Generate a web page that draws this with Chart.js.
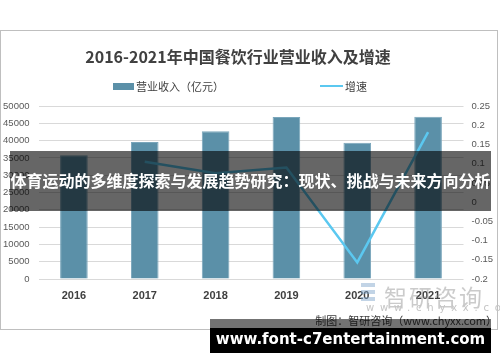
<!DOCTYPE html>
<html>
<head>
<meta charset="utf-8">
<script src="https://cdn.jsdelivr.net/npm/chart.js@4/dist/chart.umd.min.js"></script>
<style>
  html, body { margin: 0; padding: 0; background: #fff; }
  #wrap { position: relative; width: 500px; height: 362px; overflow: hidden; font-family: "Noto Sans CJK SC", "DejaVu Sans", sans-serif; }
  #card { position: absolute; left: 0; top: 30px; width: 496px; height: 298px; border: 1px solid #bfbfbf; }
  #chartBox { position: absolute; left: 0; top: 0; width: 500px; height: 362px; }
  .abs { position: absolute; white-space: nowrap; }
  #title { left: 0; width: 476px; top: 44px; text-align: center; font-size: 16px; font-weight: bold; color: #404040; }
  .leg { font-size: 11px; color: #404040; top: 78px; }
  #banner { left: 10px; top: 151px; width: 481px; height: 60px; background: rgba(0,0,0,0.6); color: #fff; font-size: 16px; font-weight: bold; line-height: 58px; text-align: center; }
  #wm { left: 384px; top: 279px; font-size: 23px; color: rgba(140,140,140,0.45); letter-spacing: 2px; }
  #wmUrl { left: 366px; top: 302px; font-size: 10px; line-height: 11px; color: #c4c4c4; letter-spacing: 5.8px; font-family: "DejaVu Sans", sans-serif; z-index: 2; }
  #credit { right: 3px; top: 312px; font-size: 11px; color: #404040; }
  #bottomShade { left: 210px; top: 319px; width: 281px; height: 9px; background: rgba(0,0,0,0.55); }
  #bottomText { left: 210px; top: 328px; width: 281px; height: 25px; background: #000; color: #fff; font-family: "DejaVu Sans", sans-serif; font-weight: bold; font-size: 15px; line-height: 23px; text-align: center; }
</style>
</head>
<body>
<div id="wrap">
  <div id="card"></div>
  <div id="chartBox"><canvas id="mainChart" width="500" height="362"></canvas></div>
  <div class="abs" id="title">2016-2021年中国餐饮行业营业收入及增速</div>
  <div class="abs" style="left:113px; top:83px; width:21px; height:7px; background:#5b90a8;"></div>
  <div class="abs leg" style="left:136px;">营业收入（亿元）</div>
  <div class="abs" style="left:320px; top:85px; width:23px; height:2px; background:#5bc8f0;"></div>
  <div class="abs leg" style="left:345px;">增速</div>
  <div class="abs" style="left:361px; top:283px; width:14px; height:4px; background:rgba(120,160,200,0.45);"></div>
  <div class="abs" style="left:361px; top:290px; width:14px; height:4px; background:rgba(120,160,200,0.45);"></div>
  <div class="abs" style="left:361px; top:297px; width:14px; height:4px; background:rgba(120,160,200,0.45);"></div>
  <div class="abs" id="wm">智研咨询</div>
  <div class="abs" id="credit">制图：智研咨询（www.chyxx.com）</div>
  <div class="abs" id="wmUrl">www.chyxx.com</div>
  <div class="abs" id="banner">体育运动的多维度探索与发展趋势研究：现状、挑战与未来方向分析</div>
  <div class="abs" id="bottomShade"></div>
  <div class="abs" id="bottomText">www.font-c7entertainment.com</div>
</div>
<script>
  const years = ['2016', '2017', '2018', '2019', '2020', '2021'];
  const revenue = [35800, 39600, 42700, 46800, 39400, 46900];
  const growth = [null, 0.105, 0.075, 0.09, -0.157, 0.182];

  const ctx = document.getElementById('mainChart');
  const tickFont = { family: 'Liberation Sans', size: 9.5 };

  new Chart(ctx.getContext('2d'), {
    type: 'bar',
    data: {
      labels: years,
      datasets: [
        {
          type: 'line',
          label: '增速',
          data: growth,
          borderColor: '#5bc8f0',
          backgroundColor: '#5bc8f0',
          borderWidth: 2.5,
          pointRadius: 0,
          tension: 0,
          yAxisID: 'y1',
          order: 0
        },
        {
          type: 'bar',
          label: '营业收入（亿元）',
          data: revenue,
          backgroundColor: '#5b90a8',
          borderColor: '#7aa6bb',
          borderWidth: 1,
          barPercentage: 0.39,
          categoryPercentage: 1,
          yAxisID: 'y',
          order: 1
        }
      ]
    },
    options: {
      responsive: false,
      animation: false,
      devicePixelRatio: 1,
      layout: { padding: { top: 106, bottom: 43, left: 0, right: 0 } },
      plugins: {
        legend: { display: false },
        title: { display: false },
        tooltip: { enabled: false }
      },
      scales: {
        x: {
          grid: { display: false, drawTicks: false },
          border: { display: false },
          ticks: {
            color: '#404040',
            font: { family: 'Liberation Sans', size: 11, weight: 'bold' },
            padding: 10
          },
          afterFit: (scale) => { scale.height = 40; }
        },
        y: {
          position: 'left',
          min: 0,
          max: 50000,
          grid: { color: '#d9d9d9', drawTicks: false, lineWidth: 1 },
          border: { display: false },
          ticks: {
            stepSize: 5000,
            color: '#595959',
            font: tickFont,
            padding: 9,
            callback: (v) => String(v)
          },
          afterFit: (scale) => { scale.width = 38.5; }
        },
        y1: {
          position: 'right',
          min: -0.2,
          max: 0.25,
          grid: { drawOnChartArea: false, drawTicks: false },
          border: { display: false },
          ticks: {
            stepSize: 0.05,
            color: '#595959',
            font: tickFont,
            padding: 8,
            callback: (v) => String(Math.round(v * 100) / 100)
          },
          afterFit: (scale) => { scale.width = 36.5; }
        }
      }
    }
  });
</script>
</body>
</html>
